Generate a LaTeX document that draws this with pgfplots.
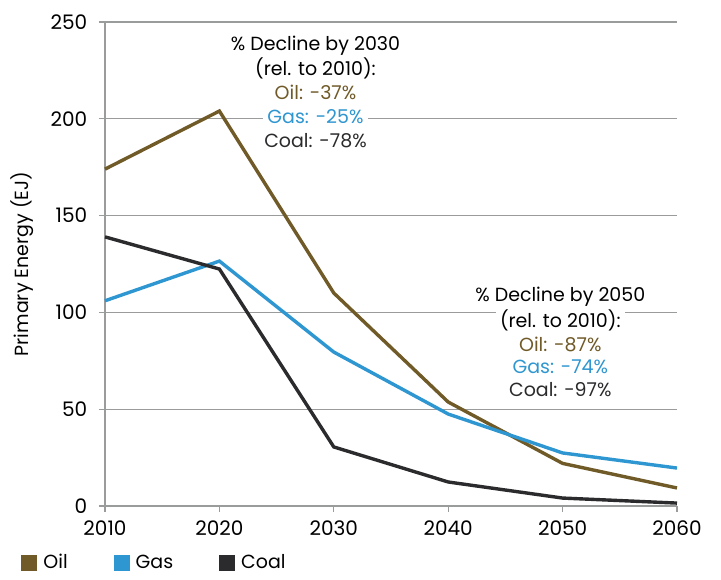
\documentclass[border=0pt]{standalone}
\usepackage{pgfplots}
\pgfplotsset{compat=1.18}
\usepackage{fontspec}
\setmainfont{Poppins}
\definecolor{oilc}{HTML}{705A28}
\definecolor{gasc}{HTML}{2E96D0}
\definecolor{coalc}{HTML}{2B2A2C}
\definecolor{gridc}{HTML}{9A9C9C}
\begin{document}
\fontsize{9.5}{12}\selectfont
\begin{tikzpicture}
\begin{axis}[
  scale only axis,
  width=286pt, height=242pt,
  xmin=2010, xmax=2060,
  ymin=0, ymax=250,
  xtick={2010,2020,2030,2040,2050,2060},
  ytick={0,50,100,150,200,250},
  axis lines=left,
  axis line style={gridc, -, line width=0.6pt},
  ymajorgrids,
  major grid style={gridc, line width=0.6pt},
  tick style={gridc, line width=0.6pt},
  tick align=outside,
  major tick length=3pt,
  xticklabel style={/pgf/number format/1000 sep={}, yshift=-1pt},
  yticklabel style={xshift=-2.5pt},
  /pgf/number format/assume math mode=true,
  tick label style={font=\fontsize{10}{12}\selectfont, text=black},
  ylabel={Primary Energy (EJ)},
  every axis y label/.style={at={(axis description cs:0,0.5)}, xshift=-41.5pt, rotate=90, anchor=center,
    font=\fontsize{9.5}{12}\selectfont},
  clip=false,
  legend columns=3,
  legend style={draw=none, fill=none, at={(-45pt,-28.5pt)}, anchor=west,
    font=\fontsize{9.5}{12}\selectfont,
    /tikz/every odd column/.append style={column sep=1pt},
    /tikz/every even column/.append style={column sep=21pt}},
  legend image code/.code={\fill[#1, draw=none] (0pt,-4pt) rectangle (8pt,4pt);},
]
\addplot[oilc, line width=1.7pt] coordinates {(2010,174) (2020,204) (2030,110) (2040,53.7) (2050,22) (2060,9.3)};
\addlegendentry{Oil}
\addplot[gasc, line width=1.7pt] coordinates {(2010,106) (2020,126.5) (2030,79.5) (2040,47.5) (2050,27.4) (2060,19.6)};
\addlegendentry{Gas}
\addplot[coalc, line width=1.7pt] coordinates {(2010,139) (2020,122.4) (2030,30.5) (2040,12.4) (2050,4.1) (2060,1.5)};
\addlegendentry{Coal}
\tikzset{ann/.style={fill=white, inner xsep=2pt, inner ysep=1pt, text height=7pt, text depth=2pt}}
\node[ann] at (axis cs:2028.4,238.1) {\% Decline by 2030};
\node[ann] at (axis cs:2028.4,225.2) {(rel. to 2010):};
\node[ann, text=oilc] at (axis cs:2028.4,212.3) {Oil: -37\%};
\node[ann, text=gasc] at (axis cs:2028.4,199.9) {Gas: -25\%};
\node[ann, text=coalc] at (axis cs:2028.4,187.5) {Coal: -78\%};
\node[ann] at (axis cs:2049.8,108.0) {\% Decline by 2050};
\node[ann] at (axis cs:2049.8,95.0) {(rel. to 2010):};
\node[ann, text=oilc] at (axis cs:2049.8,82.6) {Oil: -87\%};
\node[ann, text=gasc] at (axis cs:2049.8,70.8) {Gas: -74\%};
\node[ann, text=coalc] at (axis cs:2049.8,58.9) {Coal: -97\%};
\path (rel axis cs:0,0) ++(-52.5pt,-33.5pt) rectangle ++(360.5pt,286.5pt);
\end{axis}
\end{tikzpicture}
\end{document}
